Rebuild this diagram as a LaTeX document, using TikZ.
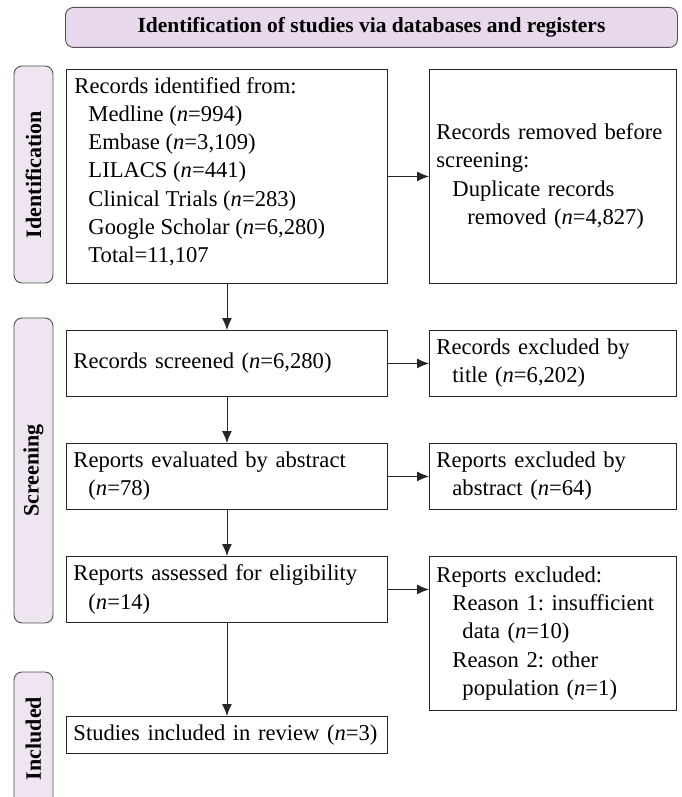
\documentclass[tikz,border=0pt]{standalone}
\usepackage{fontspec}
\setmainfont{Liberation Serif}
\usetikzlibrary{arrows.meta, positioning}
\frenchspacing

\definecolor{tabfill}{HTML}{EEE5F1}
\definecolor{headfill}{HTML}{E7D8EB}
\definecolor{tabline}{HTML}{505050}
\newcommand{\nn}{\textit{n}}

\tikzset{
  box/.style={draw=black!85, line width=0.9pt, anchor=north west, align=left,
    inner xsep=7pt, inner ysep=0pt, font=\fontsize{22.6}{28.2}\selectfont},
  tab/.style={draw=tabline, fill=tabfill, rounded corners=8pt, line width=0.9pt,
    rotate=90, inner sep=0pt, font=\fontsize{22}{26}\selectfont\bfseries},
  flow/.style={-{Latex[length=12pt,width=10pt]}, line width=0.9pt, black!85}
}

\begin{document}
\begin{tikzpicture}[x=1pt, y=-1pt]
\useasboundingbox (0,0) rectangle (681,797);
\node [draw=tabline, fill=headfill, rounded corners=8pt, line width=0.9pt, anchor=north west,
  minimum width=612pt, minimum height=40pt, font=\fontsize{21.5}{25}\selectfont\bfseries]
  (head) at (65,7) {Identification of studies via databases and registers};

\node [tab, minimum width=217pt, minimum height=39pt] (tabident)  at (33.5,174.5) {Identification};
\node [tab, minimum width=305pt, minimum height=39pt] (tabscreen) at (33.5,470.5) {Screening};
\node [tab, minimum width=133pt, minimum height=39pt] (tabincl)   at (33.5,738.5) {Included};

\begin{scope}[every node/.append style={box}]
\node [inner xsep=8pt, inner ysep=8pt] (ident) at (66,69) {\parbox[c][198pt][t]{305pt}{Records identified from:\\
  \hspace*{14pt}Medline (\nn=994)\\
  \hspace*{14pt}Embase (\nn=3,109)\\
  \hspace*{14pt}LILACS (\nn=441)\\
  \hspace*{14pt}Clinical Trials (\nn=283)\\
  \hspace*{14pt}Google Scholar (\nn=6,280)\\
  \hspace*{14pt}Total=11,107}};
\node [text width=307pt, minimum height=66pt] (screened) at (66,330) {Records screened (\nn=6,280)};
\node [text width=307pt, minimum height=66pt] (evaluated) at (66,443) {Reports evaluated by abstract\\
  \hspace*{15pt}(\nn=78)};
\node [text width=307pt, minimum height=66pt] (eligib) at (66,556) {Reports assessed for eligibility\\
  \hspace*{15pt}(\nn=14)};
\node [text width=307pt, minimum height=37pt] (incl) at (66,716) {Studies included in review (\nn=3)};

\node [text width=233pt, minimum height=214pt] (removed) at (429,69) {Records removed before\\
  screening:\\
  \hspace*{16pt}Duplicate records\\
  \hspace*{31pt}removed (\nn=4,827)};
\node [text width=233pt, minimum height=66pt] (extitle) at (429,330) {Records excluded by\\
  \hspace*{16pt}title (\nn=6,202)};
\node [text width=233pt, minimum height=66pt] (exabs) at (429,443) {Reports excluded by\\
  \hspace*{16pt}abstract (\nn=64)};
\node [text width=233pt, minimum height=154pt] (exrep) at (429,556) {Reports excluded:\\
  \hspace*{16pt}Reason 1: insufficient\\
  \hspace*{26pt}data (\nn=10)\\
  \hspace*{16pt}Reason 2: other\\
  \hspace*{26pt}population (\nn=1)};
\end{scope}

\draw [flow] (ident) -- (screened);
\draw [flow] (screened) -- (evaluated);
\draw [flow] (evaluated) -- (eligib);
\draw [flow] (eligib) -- (incl);
\draw [flow] (ident) -- (removed);
\draw [flow] (screened) -- (extitle);
\draw [flow] (evaluated) -- (exabs);
\draw [flow] (eligib.east) -- (eligib.east -| exrep.west);
\end{tikzpicture}
\end{document}
